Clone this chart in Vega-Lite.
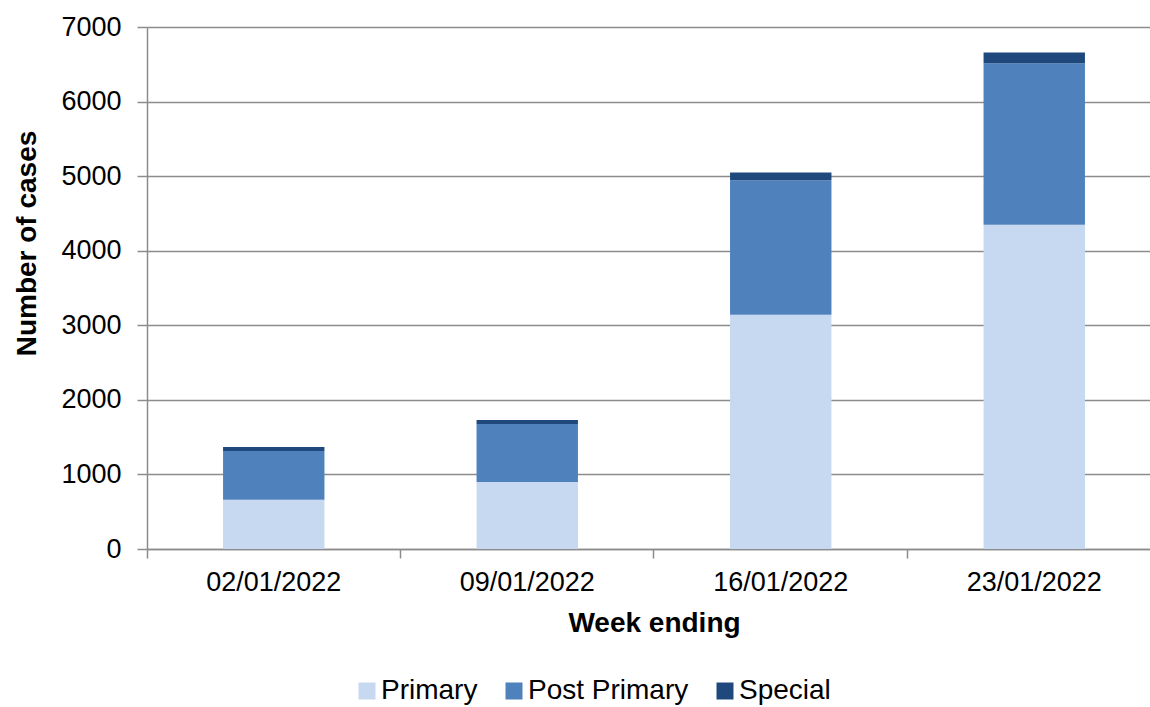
{
  "$schema": "https://vega.github.io/schema/vega-lite/v6.json",
  "width": 1014,
  "height": 522,
  "autosize": {"type": "none"},
  "padding": {"left": 147, "top": 27, "right": 0, "bottom": 158},
  "background": "white",
  "config": {
    "view": {"stroke": null},
    "font": "Liberation Sans",
    "axis": {
      "domainColor": "#8c8c8c",
      "domainWidth": 1.5,
      "tickColor": "#8c8c8c",
      "tickWidth": 1.5,
      "gridColor": "#8c8c8c",
      "gridWidth": 1.5,
      "labelColor": "#000000",
      "labelFont": "Liberation Sans",
      "labelFontSize": 27,
      "titleColor": "#000000",
      "titleFont": "Liberation Sans",
      "titleFontSize": 28,
      "titleFontWeight": "bold"
    }
  },
  "data": {
    "values": [
      {"week": "02/01/2022", "type": "Primary", "rank": 1, "cases": 661},
      {"week": "02/01/2022", "type": "Post Primary", "rank": 2, "cases": 653},
      {"week": "02/01/2022", "type": "Special", "rank": 3, "cases": 53},
      {"week": "09/01/2022", "type": "Primary", "rank": 1, "cases": 898},
      {"week": "09/01/2022", "type": "Post Primary", "rank": 2, "cases": 778},
      {"week": "09/01/2022", "type": "Special", "rank": 3, "cases": 54},
      {"week": "16/01/2022", "type": "Primary", "rank": 1, "cases": 3141},
      {"week": "16/01/2022", "type": "Post Primary", "rank": 2, "cases": 1805},
      {"week": "16/01/2022", "type": "Special", "rank": 3, "cases": 104},
      {"week": "23/01/2022", "type": "Primary", "rank": 1, "cases": 4347},
      {"week": "23/01/2022", "type": "Post Primary", "rank": 2, "cases": 2168},
      {"week": "23/01/2022", "type": "Special", "rank": 3, "cases": 143}
    ]
  },
  "mark": {"type": "bar"},
  "encoding": {
    "x": {
      "field": "week",
      "type": "nominal",
      "sort": null,
      "scale": {"paddingInner": 0.6, "paddingOuter": 0.3},
      "axis": {
        "title": "Week ending",
        "labelAngle": 0,
        "bandPosition": -0.75,
        "tickSize": 9,
        "labelPadding": 11,
        "titlePadding": 14,
        "grid": false
      }
    },
    "y": {
      "field": "cases",
      "type": "quantitative",
      "stack": "zero",
      "scale": {"domain": [0, 7000], "nice": false},
      "axis": {
        "title": "Number of cases",
        "format": "d",
        "values": [0, 1000, 2000, 3000, 4000, 5000, 6000, 7000],
        "grid": true,
        "tickSize": 10,
        "labelPadding": 16,
        "titleX": -106,
        "titleY": 216
      }
    },
    "color": {
      "field": "type",
      "type": "nominal",
      "scale": {
        "domain": ["Primary", "Post Primary", "Special"],
        "range": ["#C6D9F1", "#4F81BD", "#1F497D"]
      },
      "legend": {
        "title": null,
        "orient": "none",
        "direction": "horizontal",
        "legendX": 206,
        "legendY": 650,
        "padding": 0,
        "symbolType": "square",
        "symbolSize": 289,
        "symbolStrokeWidth": 0,
        "labelFontSize": 28,
        "labelFont": "Liberation Sans",
        "labelColor": "#000000",
        "labelOffset": 0,
        "labelLimit": 400,
        "columnPadding": 22
      }
    },
    "order": {"field": "rank", "type": "quantitative"}
  }
}
